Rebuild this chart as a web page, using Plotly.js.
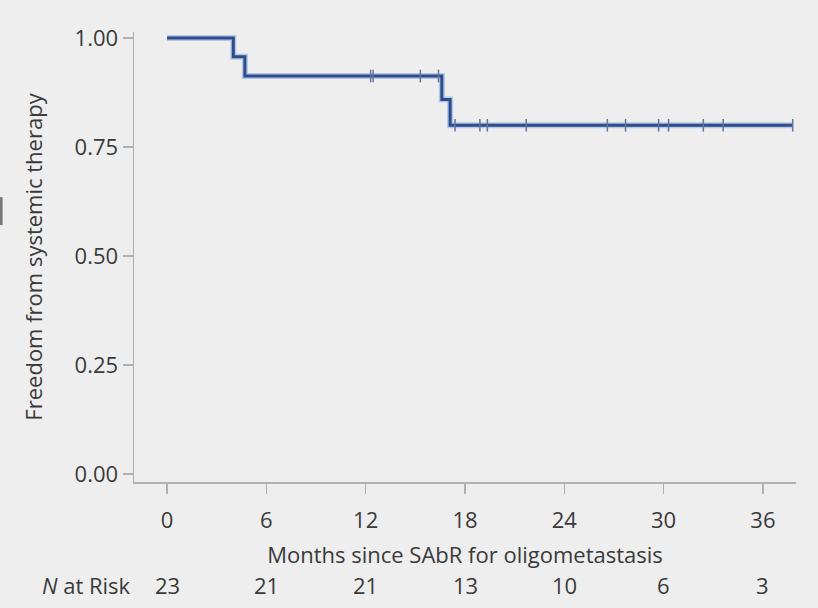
<!DOCTYPE html>
<html>
<head>
<meta charset="utf-8">
<script src="https://cdn.plot.ly/plotly-3.0.1.min.js"></script>
<style>html,body{margin:0;padding:0;background:#eeeeee;}#chart{width:818px;height:608px;}</style>
</head>
<body>
<div id="chart"></div>
<script>
// Kaplan-Meier step curve (event times and survival after each step)
const stepTimes = [0, 4.0, 4.7, 16.6, 17.1, 37.8];
const stepSurv  = [1.0, 0.957, 0.913, 0.859, 0.800, 0.800];
// Censored observations (months)
const censorTimes = [12.3, 12.45, 15.3, 16.4, 17.4, 18.9, 19.35, 21.7, 26.6, 27.7, 29.7, 30.3, 32.4, 33.6, 37.8];
// Number at risk table
const riskTimes = [0, 6, 12, 18, 24, 30, 36];
const riskCounts = [23, 21, 21, 13, 10, 6, 3];
const yTicks = [0, 0.25, 0.5, 0.75, 1.0];
const yTickText = ['0.00', '0.25', '0.50', '0.75', '1.00'];

function survAt(t) {
  let s = stepSurv[0];
  for (let i = 0; i < stepTimes.length; i++) { if (stepTimes[i] <= t) s = stepSurv[i]; }
  return s;
}
const censorSurv = censorTimes.map(survAt);

const FONT = 'Open Sans, sans-serif';
const FS = 22;
const TXT = '#3a3a3a';
const LINE = '#2c4c8c';
const CENS = '#62739c';

const traces = [
  { x: stepTimes, y: stepSurv, mode: 'lines', line: { shape: 'hv', color: 'rgba(110,150,215,0.45)', width: 6 }, hoverinfo: 'skip', showlegend: false },
  { x: stepTimes, y: stepSurv, mode: 'lines', line: { shape: 'hv', color: LINE, width: 3 }, showlegend: false },
  { x: censorTimes, y: censorSurv, mode: 'markers', marker: { symbol: 'line-ns-open', size: 9, color: CENS, line: { color: CENS, width: 1.5 } }, showlegend: false }
];

const annotations = riskTimes.map((t, i) => ({
  x: t, y: -0.229, xref: 'x', yref: 'paper', text: String(riskCounts[i]), showarrow: false,
  font: { family: FONT, size: FS, color: TXT }, xanchor: 'center', yanchor: 'middle'
}));
annotations.push({
  x: -0.002, y: -0.229, xref: 'paper', yref: 'paper', text: '<i>N</i> at Risk', showarrow: false,
  font: { family: FONT, size: FS, color: TXT }, xanchor: 'right', yanchor: 'middle'
});

const layout = {
  width: 818, height: 608,
  paper_bgcolor: '#eeeeee', plot_bgcolor: '#eeeeee',
  margin: { l: 134, r: 22, t: 32, b: 126 },
  font: { family: FONT, size: FS, color: TXT },
  xaxis: {
    range: [-2, 38], tickvals: riskTimes, ticktext: riskTimes.map(String),
    showgrid: false, zeroline: false, showline: true, linecolor: '#b0b0b0', linewidth: 1.5,
    ticks: 'outside', ticklen: 10, tickcolor: '#b0b0b0', tickwidth: 1.5,
    ticklabelstandoff: 8,
    tickfont: { family: FONT, size: FS, color: TXT },
    title: { text: 'Months since SAbR for oligometastasis', font: { family: FONT, size: FS, color: TXT }, standoff: 14 }
  },
  yaxis: {
    range: [-0.018, 1.014], tickvals: yTicks, ticktext: yTickText,
    showgrid: false, zeroline: false, showline: true, linecolor: '#b0b0b0', linewidth: 1.5,
    ticks: 'outside', ticklen: 10, tickcolor: '#b0b0b0', tickwidth: 1.5,
    tickfont: { family: FONT, size: FS, color: TXT },
    title: { text: 'Freedom from systemic therapy', font: { family: FONT, size: FS, color: TXT }, standoff: 26 }
  },
  annotations: annotations,
  shapes: [
    { type: 'rect', xref: 'paper', yref: 'paper', x0: -0.2024, x1: -0.1985, y0: 0.571, y1: 0.633, fillcolor: '#777777', line: { width: 0 } }
  ]
};

Plotly.newPlot('chart', traces, layout, { staticPlot: true, displayModeBar: false });
</script>
</body>
</html>
